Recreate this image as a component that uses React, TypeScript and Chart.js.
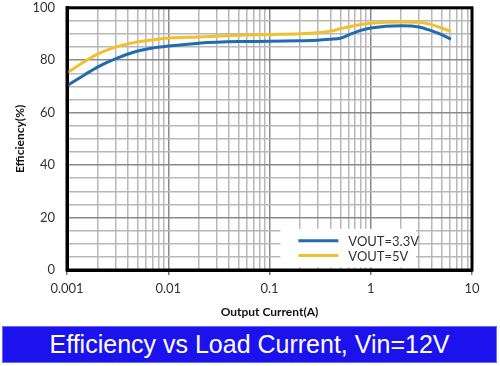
import React, { useEffect, useRef } from "react";
import { Chart, registerables } from "chart.js";

Chart.register(...registerables);

const currents = [0.001, 0.0015, 0.002, 0.003, 0.005, 0.007, 0.01, 0.02, 0.05, 0.1, 0.2, 0.3, 0.4, 0.5, 0.6, 0.8, 1, 2, 3, 4, 5, 6.2];
const eff33 = [70.3, 74.5, 77.4, 80.5, 83.5, 84.7, 85.4, 86.5, 87.1, 87.2, 87.4, 87.6, 88.0, 88.4, 89.6, 91.4, 92.3, 93.2, 92.7, 91.2, 89.8, 88.0];
const eff5 = [75.2, 79.5, 82.3, 85.0, 87.0, 87.8, 88.5, 88.9, 89.5, 89.8, 90.1, 90.5, 91.1, 92.0, 92.7, 93.6, 94.1, 94.6, 94.5, 93.6, 92.3, 91.0];
const seriesLabels = ["VOUT=3.3V", "VOUT=5V"];
const seriesColors = ["#1f6cb0", "#f2c02e"];
const decades = [0.001, 0.01, 0.1, 1, 10];
const decadeLabels = ["0.001", "0.01", "0.1", "1", "10"];
const yMajorTicks = [0, 20, 40, 60, 80, 100];

const xTickValues: number[] = [];
for (let d = 0; d < decades.length - 1; d++) {
  for (let m = 1; m <= 9; m++) xTickValues.push(m * decades[d]);
}
xTickValues.push(decades[decades.length - 1]);

function decadeIndex(v: number): number {
  for (let i = 0; i < decades.length; i++) {
    if (Math.abs(v - decades[i]) / decades[i] < 1e-6) return i;
  }
  return -1;
}

const framePlugin = {
  id: "frameAndLegend",
  afterDatasetsDraw(chart: any) {
    const { ctx, chartArea, scales } = chart;
    ctx.save();
    // legend box (covers grid)
    const lx0 = scales.x.getPixelForValue(0.128);
    const lx1 = scales.x.getPixelForValue(2.79);
    const ly0 = scales.y.getPixelForValue(15.7);
    const ly1 = scales.y.getPixelForValue(1);
    ctx.fillStyle = "#ffffff";
    ctx.fillRect(lx0, ly0, lx1 - lx0, ly1 - ly0);
    const rowY = [scales.y.getPixelForValue(11.2), scales.y.getPixelForValue(5.5)];
    chart.data.datasets.forEach((ds: any, i: number) => {
      ctx.strokeStyle = ds.borderColor;
      ctx.lineWidth = 3;
      ctx.beginPath();
      ctx.moveTo(lx0 + 18, rowY[i]);
      ctx.lineTo(lx0 + 58, rowY[i]);
      ctx.stroke();
      ctx.fillStyle = "#333333";
      ctx.font = "13px Lato";
      ctx.textBaseline = "middle";
      ctx.textAlign = "left";
      ctx.fillText(ds.label, lx0 + 68, rowY[i] + 1);
    });
    // frame
    ctx.strokeStyle = "#000000";
    ctx.lineWidth = 3;
    ctx.strokeRect(chartArea.left, chartArea.top, chartArea.right - chartArea.left, chartArea.bottom - chartArea.top);
    ctx.restore();
  },
};

export default function App() {
  const ref = useRef<HTMLCanvasElement | null>(null);
  useEffect(() => {
    if (!ref.current) return;
    const chart = new Chart(ref.current, {
      type: "line",
      data: {
        datasets: [
          {
            label: seriesLabels[0],
            data: currents.map((x, i) => ({ x, y: eff33[i] })),
            borderColor: seriesColors[0],
            backgroundColor: seriesColors[0],
            borderWidth: 3,
            pointRadius: 0,
            cubicInterpolationMode: "monotone",
          },
          {
            label: seriesLabels[1],
            data: currents.map((x, i) => ({ x, y: eff5[i] })),
            borderColor: seriesColors[1],
            backgroundColor: seriesColors[1],
            borderWidth: 3,
            pointRadius: 0,
            cubicInterpolationMode: "monotone",
          },
        ],
      },
      options: {
        animation: false,
        responsive: false,
        maintainAspectRatio: false,
        layout: { padding: { left: 0, top: 7, right: 28, bottom: 0 } },
        plugins: { legend: { display: false }, tooltip: { enabled: false } },
        scales: {
          x: {
            type: "logarithmic",
            min: 0.001,
            max: 10,
            afterBuildTicks: (scale: any) => {
              scale.ticks = xTickValues.map((v) => ({ value: v }));
            },
            afterFit: (scale: any) => {
              scale.height = 55;
            },
            ticks: {
              autoSkip: false,
              maxRotation: 0,
              padding: 6,
              color: "#333333",
              font: { family: "Lato", size: 13 },
              callback: (v: any) => {
                const i = decadeIndex(Number(v));
                return i >= 0 ? decadeLabels[i] : "";
              },
            },
            grid: {
              color: (c: any) => (c.tick && decadeIndex(c.tick.value) >= 0 ? "#8a8a8a" : "#b8b8b8"),
              lineWidth: 1.5,
              tickLength: 5,
              tickColor: (c: any) => (c.tick && decadeIndex(c.tick.value) >= 0 ? "#777777" : "rgba(0,0,0,0)"),
            },
            border: { display: true, color: "#000", width: 3 },
            title: {
              display: true,
              text: "Output Current(A)",
              color: "#111111",
              font: { family: "Lato", size: 12, weight: "bold" },
              padding: { top: 0, bottom: 6 },
            },
          },
          y: {
            min: 0,
            max: 100,
            afterBuildTicks: (scale: any) => {
              const t: any[] = [];
              for (let v = 0; v <= 100; v += 5) t.push({ value: v });
              scale.ticks = t;
            },
            afterFit: (scale: any) => {
              scale.width = 67;
            },
            ticks: {
              autoSkip: false,
              padding: 0,
              color: "#333333",
              font: { family: "Lato", size: 13 },
              callback: (v: any) => (yMajorTicks.includes(Number(v)) ? String(v) : ""),
            },
            grid: {
              color: (c: any) => (c.tick && yMajorTicks.includes(c.tick.value) ? "#8a8a8a" : "#b8b8b8"),
              lineWidth: 1.5,
              drawTicks: true,
              tickLength: 12,
              tickColor: "rgba(0,0,0,0)",
            },
            border: { display: true, color: "#000", width: 3 },
            title: {
              display: true,
              text: "Efficiency(%)",
              color: "#111111",
              font: { family: "Lato", size: 12, weight: "bold" },
              padding: { top: 13, bottom: 0 },
            },
          },
        },
      },
      plugins: [framePlugin],
    } as any);
    return () => chart.destroy();
  }, []);

  return (
    <div style={{ position: "absolute", left: 0, top: 0, width: 500, height: 366, background: "#fff" }}>
      <canvas ref={ref} width={500} height={325} style={{ position: "absolute", left: 0, top: 0, width: 500, height: 325 }} />
      <div
        style={{
          position: "absolute",
          left: 2,
          top: 326,
          width: 495,
          height: 37,
          background: "#1c12ee",
          color: "#ffffff",
          fontFamily: "'Liberation Sans', Arial, sans-serif",
          fontSize: 25,
          lineHeight: "35px",
          textAlign: "center",
          boxSizing: "border-box",
          border: "1px solid #6a6af5",
        }}
      >
        Efficiency vs Load Current, Vin=12V
      </div>
    </div>
  );
}
